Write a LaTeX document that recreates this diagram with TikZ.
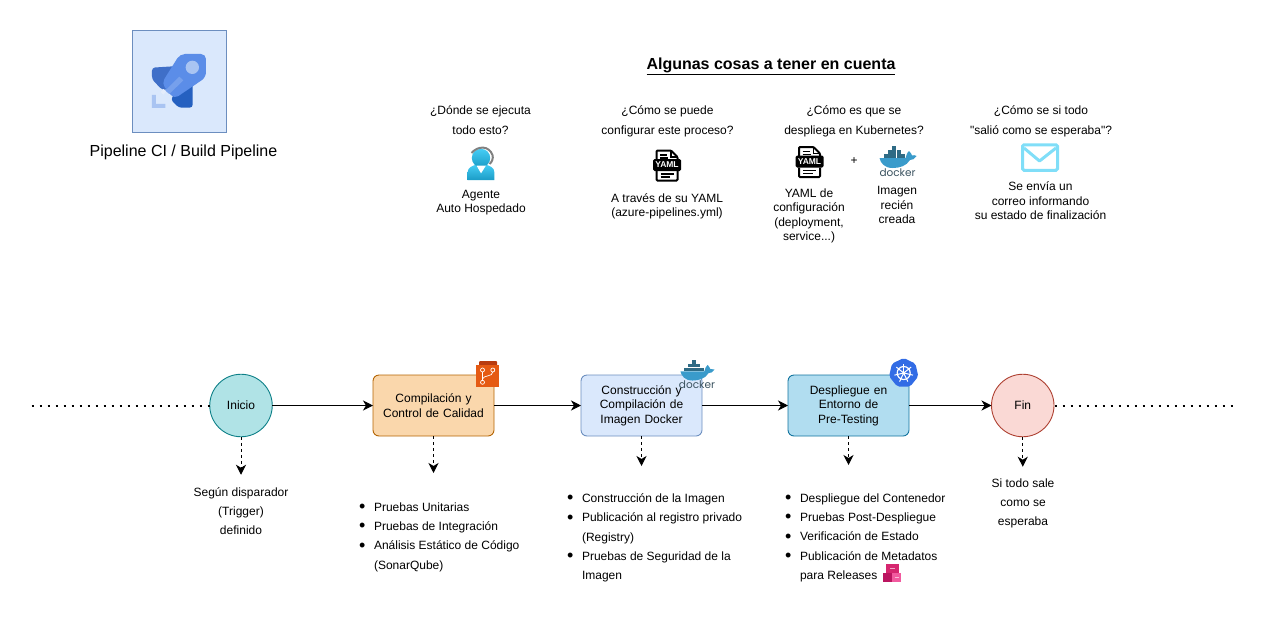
\documentclass[tikz,border=0pt]{standalone}
\usepackage{xcolor}
\usepackage{fontspec}
\usepackage{tikz}
\usetikzlibrary{shapes.geometric,arrows.meta,positioning,calc}
\setmainfont{Liberation Sans}[Ligatures=TeXOff]
\newfontfamily\dockerfont{Poppins}
\definecolor{startfill}{HTML}{B0E3E6}
\definecolor{startline}{HTML}{0E8088}
\definecolor{buildfill}{HTML}{FAD7AC}
\definecolor{buildline}{HTML}{B46504}
\definecolor{imagefill}{HTML}{DAE8FC}
\definecolor{imageline}{HTML}{6C8EBF}
\definecolor{deployfill}{HTML}{B1DDF0}
\definecolor{deployline}{HTML}{10739E}
\definecolor{endfill}{HTML}{FAD9D5}
\definecolor{endline}{HTML}{AE4132}
\definecolor{whale}{HTML}{3A9BCB}
\definecolor{whaledark}{HTML}{2F6B85}
\definecolor{dockerword}{HTML}{3B5360}
\definecolor{rocketa}{HTML}{5B8DE8}
\definecolor{rocketb}{HTML}{3F6FC8}
\definecolor{rocketc}{HTML}{2560C0}
\definecolor{rocketd}{HTML}{A9C4F2}
\definecolor{gitfill}{HTML}{E55A13}
\definecolor{gittop}{HTML}{B83C10}
\definecolor{kubefill}{HTML}{326CE5}
\definecolor{mailcyan}{HTML}{80DEF8}
\definecolor{agenttop}{HTML}{45CDF5}
\definecolor{agentlow}{HTML}{1B9CC6}
\definecolor{boxtop}{HTML}{D6266F}
\definecolor{boxleft}{HTML}{BB1560}
\definecolor{boxright}{HTML}{F25A9F}
\tikzset{
    yamlicon/.pic={
        \draw[black, line width=2pt, line join=round, rounded corners=1pt, fill=white] (-10.5,-4) -- (-10.5,-14.5) -- (4,-14.5) -- (10.5,-8) -- (10.5,-4);
        \draw[black, line width=1.4pt] (4,-14.5) -- (4,-8) -- (10.5,-8);
        \draw[black, line width=1.2pt] (-7,-10) -- (0,-10) (-7,-7) -- (1,-7);
        \draw[black, line width=2pt, rounded corners=1pt] (-10.5,6) -- (-10.5,15.5) -- (10.5,15.5) -- (10.5,6);
        \draw[black, line width=1.2pt] (-6.5,9) -- (6.5,9) (-6.5,12) -- (3,12);
        \node[fill=black, rounded corners=1.5pt, minimum width=28pt, minimum height=12pt, inner sep=0pt, text=white, font=\fontsize{8.5}{9}\selectfont\bfseries] (-band) at (0,0) {YAML};
    },
    dockericon/.pic={
        \fill[whale] (-18,-4) -- (8,-4) .. controls (8.5,-6.5) and (10,-10) .. (11.5,-11) .. controls (13,-10) and (14,-7.5) .. (14.5,-6.5) .. controls (16,-7) and (17.5,-7) .. (19,-6) .. controls (17.5,-3) and (15,-2) .. (12.5,-2) .. controls (9,4) and (2,6) .. (-5,6) .. controls (-13,6) and (-17,1) .. (-18,-4) -- cycle;
        \foreach \cx in {-14,-9.6,-5.2,-0.8,3.6} {
            \fill[whaledark] (\cx,-8) rectangle ++(4,3.6);
        }
        \foreach \cx in {-9.6,-5.2,-0.8} {
            \fill[whaledark] (\cx,-12) rectangle ++(4,3.6);
        }
        \fill[whaledark] (-5.2,-16) rectangle ++(4,3.6);
        \node[text=dockerword, inner sep=0pt, font=\fontsize{10.5}{11}\dockerfont\selectfont] (-word) at (0,10.5) {docker};
    }
}
\begin{document}
\begin{tikzpicture}[
    x=1pt, y=-1pt,
    base/.style={font=\fontsize{12}{14.4}\selectfont, align=center, inner sep=0pt, outer sep=0pt},
    flowbox/.style={base, rectangle, draw, line width=0.9pt, rounded corners=6pt, minimum width=121pt, minimum height=61pt, text width=112pt},
    flowcircle/.style={base, circle, draw, line width=0.9pt, minimum size=62.5pt},
    flow/.style={line width=1pt, -{Stealth[length=10pt, width=10pt, inset=3pt]}},
    note/.style={line width=1pt, dash pattern=on 3pt off 3pt, -{Stealth[length=10pt, width=10pt, inset=3pt]}},
    dots/.style={line width=2pt, dash pattern=on 2pt off 6pt},
    question/.style={base, font=\fontsize{12}{20}\selectfont},
    answer/.style={base},
    spaced/.style={base, font=\fontsize{12}{19}\selectfont},
    listing/.style={base, font=\fontsize{12}{19.33}\selectfont, align=left, anchor=north west}
]
    \newcommand{\itm}{\makebox[14pt][l]{\hspace{-1pt}\raisebox{-1.4pt}{\fontsize{18}{0}\selectfont\textbullet}}}
    \newcommand{\nxt}{\hspace*{14pt}}

    \useasboundingbox (0,0) rectangle (1265,635);

    % logo
    \node[draw=imageline, fill=imagefill, line width=0.9pt, minimum width=94pt, minimum height=102.5pt, inner sep=0pt, outer sep=0pt] (logo) at (179.5,81.5) {};
    \begin{scope}[shift={(100,20)}, x=0.3333pt, y=-0.3333pt]
        \fill[rocketb, rounded corners=3pt] (156,143) -- (235,138) -- (215,207) -- (187,210) -- (156,178) -- cycle;
        \fill[rocketc, rounded corners=3pt] (278,150) -- (278,263) -- (236,263) -- (212,238) -- cycle;
        \fill[rocketa, rounded corners=5pt] (318,102) -- (318,172) -- (222,237) -- (185,190) -- (240,102) -- cycle;
        \fill[rocketd] (277,142) circle (20);
        \fill[rocketd!35!rocketa] (238,170) -- (250,181) -- (208,222) -- (196,212) -- cycle;
        \fill[white!70!rocketd] (190,207) -- (198,215) -- (190,224) -- (182,216) -- cycle;
        \fill[rocketd] (156,225) -- (168,225) -- (168,252) -- (196,252) -- (196,264) -- (156,264) -- cycle;
    \end{scope}
    \node[base, font=\fontsize{16}{18}\selectfont, below=12pt of logo, xshift=4pt] (logotext) {Pipeline CI / Build Pipeline};

    % notes on top
    \node[base, font=\fontsize{16}{18}\selectfont\bfseries] (title) at (771,66) {\underline{Algunas cosas a tener en cuenta}};

    \node[question] (q1) at (480.5,120) {¿Dónde se ejecuta\\todo esto?};
    \node[question] (q2) at (667.5,121) {¿Cómo se puede\\configurar este proceso?};
    \node[question] (q3) at (854,121) {¿Cómo es que se\\despliega en Kubernetes?};
    \node[question] (q4) at (1041,121) {¿Cómo se si todo\\"salió como se esperaba"?};

    \begin{scope}[shift={(481,163)}]
        \shade[top color=agenttop, bottom color=agentlow] (-13.3,17) -- (-13.3,9) .. controls (-13.3,5) and (-9,2.5) .. (-4,1.5) -- (4,1.5) .. controls (9,2.5) and (13.3,5) .. (13.3,9) -- (13.3,17) -- cycle;
        \shade[top color=agenttop, bottom color=agentlow] (0,-5) circle (9.2);
        \fill[white] (-4.5,2.5) -- (5,2.5) -- (0,10.3) -- cycle;
        \draw[gray, line width=2pt] (-9.5,-10) .. controls (-3,-17.5) and (8,-17.5) .. (11.5,-8) .. controls (12.5,-5) and (11,-1) .. (8.5,1);
    \end{scope}
    \pic (yamla) at (667,165) {yamlicon};
    \pic (yamlb) at (809.5,161.5) {yamlicon};
    \pic (dockera) at (897.5,162) {dockericon};
    \node[base] (plus) at (854,161) {+};
    \node[draw=mailcyan, fill=white, line width=3pt, rounded corners=1.5pt, minimum width=35pt, minimum height=25.5pt, inner sep=0pt] (mail) at (1040,157.5) {};
    \draw[mailcyan, line width=3pt, line join=round] (1024,148) -- (1039.5,161) -- (1056,148);

    \node[answer] (a1) at (481,202.5) {Agente\\Auto Hospedado};
    \node[answer] (a2) at (667,206.5) {A través de su YAML\\(azure-pipelines.yml)};
    \node[answer] (a3) at (809,216) {YAML de\\configuración\\(deployment,\\service...)};
    \node[answer] (a4) at (897,205) {Imagen\\recién\\creada};
    \node[answer] (a5) at (1040.5,200.7) {Se envía un\\correo informando\\su estado de finalización};

    % pipeline
    \node[flowcircle, fill=startfill, draw=startline] (inicio) at (241,405.5) {Inicio};
    \node[flowbox, fill=buildfill, draw=buildline, right=100.75pt of inicio] (build) {Compilación y\\Control de Calidad};
    \node[flowbox, fill=imagefill, draw=imageline, right=87pt of build] (image) {Construcción y\\Compilación de\\Imagen Docker};
    \node[flowbox, fill=deployfill, draw=deployline, right=86pt of image] (deploy) {Despliegue en\\Entorno de\\Pre-Testing};
    \node[flowcircle, fill=endfill, draw=endline, right=82.5pt of deploy] (fin) {Fin};

    \coordinate (left) at (31.5,405.5);
    \coordinate (right) at (1233,405.5);
    \draw[dots] (left) -- (inicio);
    \draw[dots, dash phase=7.5pt] (fin) -- (right);
    \draw[flow] (inicio) -- (build);
    \draw[flow] (build) -- (image);
    \draw[flow] (image) -- (deploy);
    \draw[flow] (deploy) -- (fin);

    \coordinate[below=38pt of inicio] (inicionote);
    \coordinate[below=37pt of build] (buildnote);
    \coordinate[below=30pt of image] (imagenote);
    \coordinate[below=29pt of deploy] (deploynote);
    \coordinate[below=30pt of fin] (finnote);
    \draw[note] (inicio) -- (inicionote);
    \draw[note] (build) -- (buildnote);
    \draw[note] (image) -- (imagenote);
    \draw[note] (deploy) -- (deploynote);
    \draw[note] (fin) -- (finnote);

    % badges on the boxes
    \fill[gittop, rounded corners=1pt] (479,361) rectangle (497,367);
    \node[fill=gitfill, minimum width=23.5pt, minimum height=22pt, inner sep=0pt] (gitbox) at (487.7,375.7) {};
    \draw[white, line width=0.7pt] (482.5,372) -- (482.5,380.5) (492.8,372) .. controls (492.8,377) and (483,375) .. (482.5,379);
    \draw[white, line width=0.7pt] (482.5,370) circle (2) (492.8,370) circle (2) (482.5,382.3) circle (2);

    \pic[scale=0.92] (dockerb) at (697,375) {dockericon};

    \node[regular polygon, regular polygon sides=7, fill=kubefill, rounded corners=2pt, minimum size=30pt, inner sep=0pt] (kube) at (903.7,373) {};
    \draw[white, line width=1.2pt] (kube.center) circle (6.5);
    \foreach \ang in {90,141.4,192.9,244.3,295.7,347.1,398.6} {
        \draw[white, line width=1pt] (kube.center) -- ++(\ang:-9.5);
    }
    \fill[white] (kube.center) circle (1.6);

    % texts below
    \node[spaced] (iniciotext) at (241,511) {Según disparador\\(Trigger)\\definido};
    \node[listing] (buildlist) at (360,502.5) {\itm Pruebas Unitarias\\\itm Pruebas de Integración\\\itm Análisis Estático de Código\\\nxt(SonarQube)};
    \node[listing] (imagelist) at (568,493.5) {\itm Construcción de la Imagen\\\itm Publicación al registro privado\\\nxt(Registry)\\\itm Pruebas de Seguridad de la\\\nxt Imagen};
    \node[listing] (deploylist) at (786,493.5) {\itm Despliegue del Contenedor\\\itm Pruebas Post-Despliegue\\\itm Verificación de Estado\\\itm Publicación de Metadatos\\\nxt para Releases};
    \node[spaced] (fintext) at (1023,503) {Si todo sale\\como se\\esperaba};

    % package icon
    \fill[boxtop] (886,564) rectangle (898.5,573);
    \fill[boxleft] (883,573) rectangle (892,582);
    \fill[boxright] (892,573) rectangle (901,582);
    \draw[white!60!boxtop, line width=0.6pt] (890,568) -- (895,568);
    \draw[white!60!boxright, line width=0.6pt] (894.5,577) -- (899,577);
\end{tikzpicture}
\end{document}
